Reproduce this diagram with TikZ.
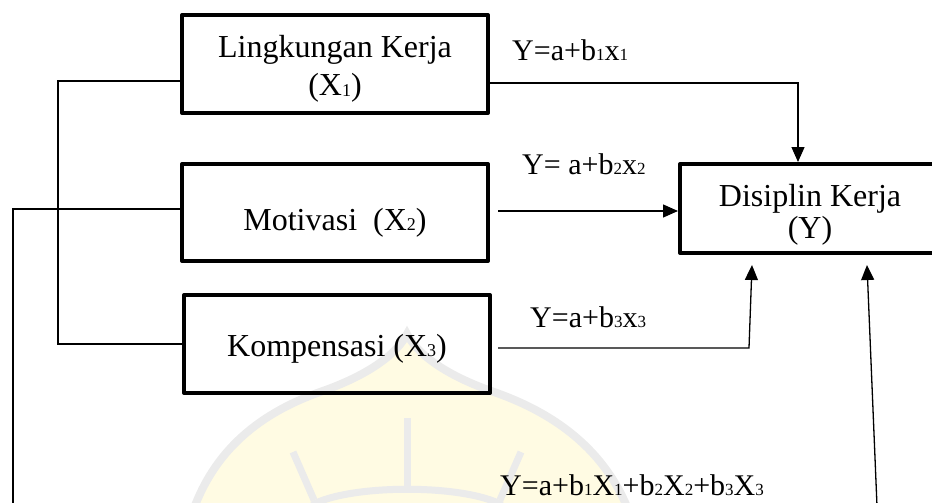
\documentclass[tikz,border=0pt]{standalone}
\usepackage{fontspec}
\setmainfont{Liberation Serif}
\usetikzlibrary{arrows.meta}
\definecolor{wmy}{HTML}{FFFBE3}
\definecolor{wmg}{HTML}{EBEBEB}
\newcommand{\sbx}[1]{\raisebox{-0.5pt}{\fontsize{18}{18}\selectfont #1}}
\newcommand{\sbe}[1]{\raisebox{-0.5pt}{\fontsize{17}{17}\selectfont #1}}
\newcommand{\lowtext}[2]{\raisebox{-#1}[0pt][0pt]{\begin{tabular}[b]{@{}c@{}}#2\end{tabular}}}
\begin{document}
\begin{tikzpicture}[x=1pt,y=-1pt,
  box/.style={draw, line width=4pt, line join=round, inner sep=0pt, minimum width=306pt, minimum height=98pt, font=\fontsize{32}{38}\selectfont},
  conn/.style={line width=1.3pt},
  arr/.style={conn, -{Triangle[length=15pt,width=13pt]}},
  eq/.style={font=\fontsize{30}{34}\selectfont, inner sep=0pt, anchor=base west},
  wm/.style={wmg, line width=7pt}]
\useasboundingbox (0,0) rectangle (932,503);
\clip (0,0) rectangle (932,503);
% watermark
\fill[wmy] (190,520) .. controls (210,455) and (255,415) .. (320,392) .. controls (372,374) and (398,352) .. (407,334) .. controls (416,352) and (442,374) .. (494,392) .. controls (560,415) and (610,455) .. (632,520) -- cycle;
\draw[wmg, line width=8pt] (190,520) .. controls (210,455) and (255,415) .. (320,392) .. controls (372,374) and (398,352) .. (407,334) .. controls (416,352) and (442,374) .. (494,392) .. controls (560,415) and (610,455) .. (632,520);
\draw[wm] (407,418) -- (407,490);
\draw[wm] (293,452) -- (314,500);
\draw[wm] (521,452) -- (500,500);
\draw[wm] (312,505) .. controls (350,484) and (464,484) .. (502,505);
% boxes
\node[box] (x1) at (335,64) {\lowtext{32pt}{Lingkungan Kerja\\(X\sbx{1})}};
\node[box, minimum height=97pt] (x2) at (335,212.5) {\lowtext{17.5pt}{Motivasi\ \ (X\sbx{2})}};
\node[box] (x3) at (337,344) {\lowtext{12pt}{Kompensasi (X\sbx{3})}};
\node[box, minimum width=260pt, minimum height=89pt] (y) at (810,208.5) {\lowtext{29.5pt}{Disiplin Kerja\\[-6pt](Y)}};
% connectors
\draw[conn] ([yshift=-17pt]x1.west) -- ++(-122,0) |- (x3.west);
\coordinate (lb2) at (13,506);
\draw[conn] ([yshift=3.5pt]x2.west) -| (lb2);
\draw[arr] ([yshift=-19pt]x1.east) -| ([xshift=-12pt]y.north);
\draw[arr] ([shift={(8pt,1.5pt)}]x2.east) -- ([yshift=-2.5pt]y.west);
\draw[arr] ([shift={(6pt,-4pt)}]x3.east) -- ++(251,0) -- ([shift={(-58pt,-10pt)}]y.south);
\coordinate (lb) at (877,506);
\draw[arr] (lb) -- ([shift={(57pt,-10pt)}]y.south);
% labels
\node[eq] (e1) at (512,60) {Y=a+b\sbe{1}x\sbe{1}};
\node[eq] (e2) at (522,174) {Y= a+b\sbe{2}x\sbe{2}};
\node[eq] (e3) at (530,327) {Y=a+b\sbe{3}x\sbe{3}};
\node[eq] (e4) at (500,495) {Y=a+b\sbe{1}X\sbe{1}+b\sbe{2}X\sbe{2}+b\sbe{3}X\sbe{3}};
\end{tikzpicture}
\end{document}
